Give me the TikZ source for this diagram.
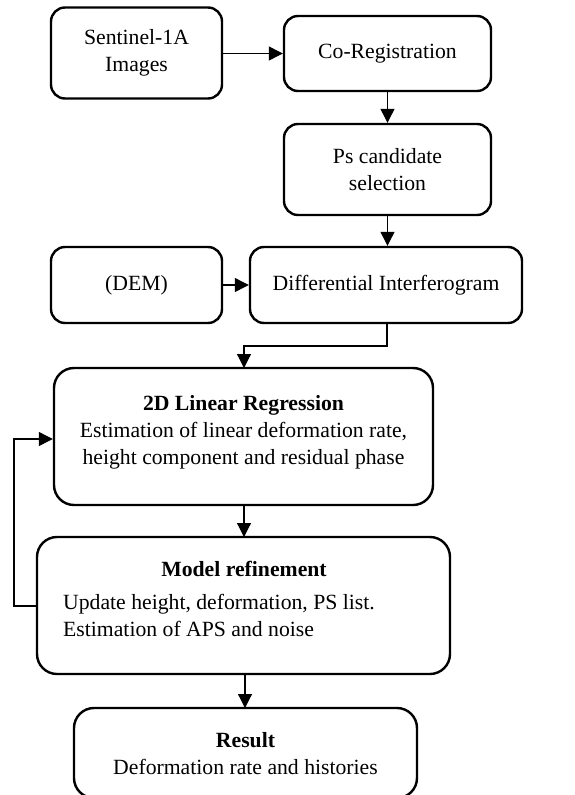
\documentclass[tikz,border=0pt]{standalone}
\usepackage{fontspec}
\setmainfont{Liberation Serif}
\usetikzlibrary{arrows.meta}
\begin{document}
\begin{tikzpicture}[x=1pt,y=-1pt,
  box/.style={draw, line width=2.4pt, rounded corners=14pt, inner sep=0pt, align=center},
  bigbox/.style={draw, line width=2.4pt, rounded corners=20pt, inner sep=0pt},
  txt/.style={inner sep=0pt, align=center, font=\fontsize{21.7}{27}\selectfont},
  conn/.style={line width=1.2pt, -{Triangle[length=14pt,width=14pt]}}
]
\useasboundingbox (0,0) rectangle (575,795);
\node[box, txt, minimum width=171pt, minimum height=91pt] (s1) at (136.5,53) {Sentinel-1A\\Images};
\node[box, txt, minimum width=207pt, minimum height=75pt] (co) at (387.5,53.5) {Co-Registration};
\node[box, txt, minimum width=207pt, minimum height=91pt] (ps) at (387.5,169.5) {Ps candidate\\selection};
\node[box, txt, minimum width=171pt, minimum height=76pt] (dem) at (136.5,285) {(DEM)};
\node[box, txt, minimum width=272pt, minimum height=76pt] (di) at (386,285) {Differential Interferogram};
\node[bigbox, minimum width=379pt, minimum height=137pt] (lr) at (243.5,436.5) {};
\node[txt] (lrt) at (243.5,432) {\textbf{2D Linear Regression}\\Estimation of linear deformation rate,\\height component and residual phase};
\node[bigbox, minimum width=413pt, minimum height=137pt] (mr) at (243.5,605.5) {};
\node[txt, font=\fontsize{21.7}{27}\selectfont\bfseries] (mrt) at (244,569) {Model refinement};
\node[txt, align=left, anchor=west] (mrb) at (63,615) {Update height, deformation, PS list.\\Estimation of APS and noise};
\node[bigbox, minimum width=343pt, minimum height=90pt] (re) at (245.5,753) {};
\node[txt] (ret) at (245.5,754) {\textbf{Result}\\Deformation rate and histories};
\coordinate (lp1) at (14,606);
\coordinate (lp2) at (14,439);
\draw[conn] (s1.east |- co.west) -- (co.west);
\draw[conn] (co.south) -- (ps.north);
\draw[conn] (ps.south) -- (ps.south |- di.north);
\draw[conn] (dem.east) -- (di.west);
\draw[conn] (387,323) -- (387,346) -- (244,346) -- (244,368);
\draw[conn] (244,505) -- (244,537);
\draw[conn] (mr.west |- lp1) -- (lp1) -- (lp2) -- (lr.west |- lp2);
\draw[conn] (245,674) -- (245,708);
\end{tikzpicture}
\end{document}
